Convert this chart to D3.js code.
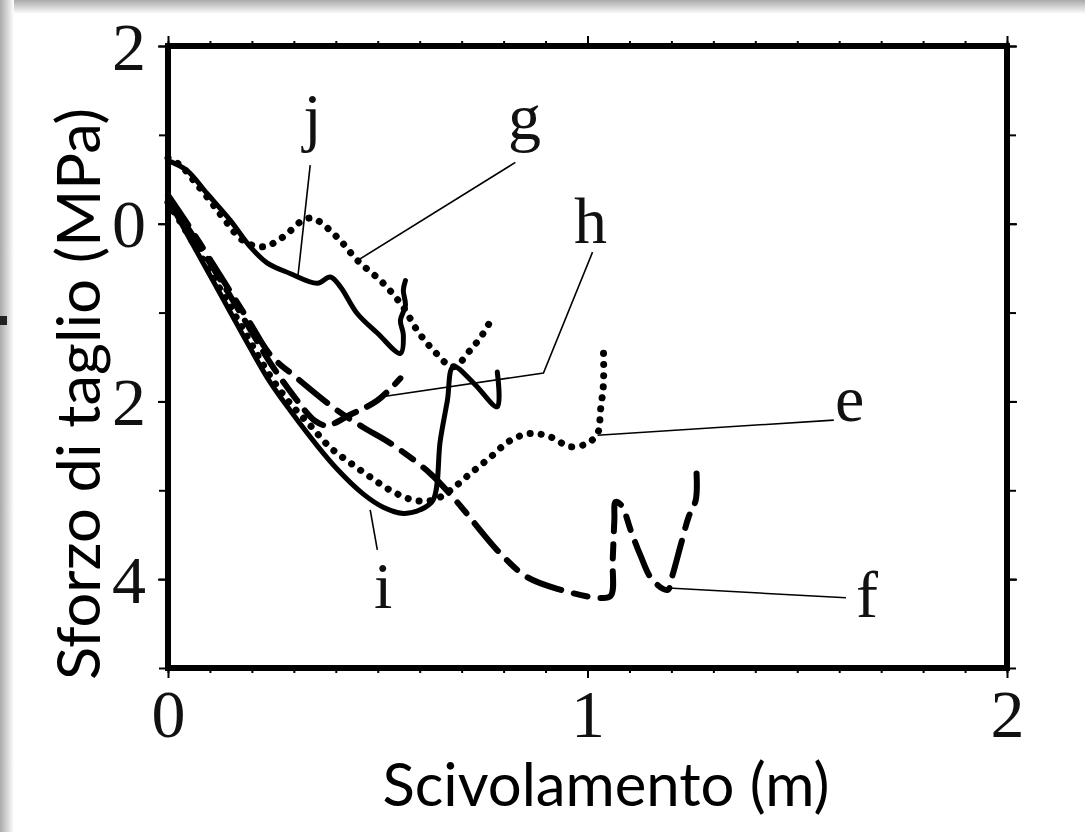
<!DOCTYPE html>
<meta charset="utf-8">
<head>
    <title>Sforzo di taglio</title>
</head>
<style>
    body { margin: 0; background: #fff; }
    .serif { font-family: "Liberation Serif", "Times New Roman", serif; }
    .sans { font-family: Lato, "Open Sans", sans-serif; }
</style>
<div id="graph_div"></div>
<script src="https://d3js.org/d3.v7.min.js"></script>
<script>
    // curve data: slip (m) and shear stress (MPa)
    var slip_e   = [0, 0.053, 0.10, 0.148, 0.196, 0.243, 0.291, 0.339, 0.387, 0.434, 0.482, 0.530, 0.585, 0.632, 0.673, 0.721, 0.768, 0.816, 0.864, 0.912, 0.959, 1.000, 1.024, 1.031, 1.038, 1.038];
    var stress_e = [0.24, -0.16, -0.54, -0.93, -1.33, -1.71, -2.02, -2.27, -2.52, -2.69, -2.85, -3.00, -3.11, -3.11, -3.00, -2.81, -2.63, -2.44, -2.36, -2.40, -2.51, -2.47, -2.36, -2.10, -1.80, -1.42];

    var slip_f   = [0, 0.053, 0.10, 0.148, 0.196, 0.243, 0.308, 0.403, 0.465, 0.530, 0.625, 0.685, 0.792, 0.857, 0.936, 1.024, 1.055, 1.060, 1.064, 1.067, 1.081, 1.103, 1.126, 1.155, 1.191, 1.203, 1.222, 1.241, 1.258, 1.260];
    var stress_f = [0.32, -0.05, -0.40, -0.76, -1.12, -1.47, -1.74, -2.10, -2.29, -2.47, -2.81, -3.11, -3.71, -3.98, -4.12, -4.21, -4.19, -3.79, -3.34, -3.13, -3.17, -3.45, -3.73, -4.01, -4.12, -3.95, -3.62, -3.30, -3.11, -2.81];

    var slip_g   = [0, 0.029, 0.064, 0.10, 0.131, 0.179, 0.227, 0.274, 0.322, 0.346, 0.403, 0.451, 0.513, 0.561, 0.594, 0.632, 0.680, 0.721, 0.752, 0.776];
    var stress_g = [0.74, 0.66, 0.47, 0.26, 0.07, -0.19, -0.26, -0.15, 0.04, 0.06, -0.15, -0.41, -0.67, -0.94, -1.20, -1.42, -1.61, -1.42, -1.23, -1.03];

    var slip_h   = [0, 0.053, 0.10, 0.148, 0.196, 0.243, 0.303, 0.351, 0.379, 0.434, 0.499, 0.554];
    var stress_h = [0.28, -0.09, -0.44, -0.81, -1.19, -1.56, -1.96, -2.22, -2.27, -2.15, -1.99, -1.74];

    var slip_i   = [0, 0.053, 0.10, 0.148, 0.196, 0.243, 0.291, 0.356, 0.403, 0.465, 0.513, 0.561, 0.601, 0.632, 0.649, 0.666, 0.680, 0.728, 0.785, 0.785];
    var stress_i = [0.27, -0.18, -0.58, -0.99, -1.40, -1.78, -2.10, -2.50, -2.76, -3.04, -3.19, -3.26, -3.22, -3.11, -2.44, -1.99, -1.61, -1.79, -2.06, -1.67];

    var slip_j   = [0, 0.045, 0.093, 0.148, 0.196, 0.236, 0.291, 0.356, 0.387, 0.411, 0.451, 0.499, 0.554, 0.561, 0.554, 0.566, 0.561, 0.566];
    var stress_j = [0.71, 0.60, 0.34, 0.04, -0.26, -0.44, -0.56, -0.67, -0.60, -0.71, -1.01, -1.23, -1.46, -1.25, -1.09, -0.92, -0.75, -0.64];

    var curve_names = ["e", "f", "g", "h", "i", "j"];
    var curve_slip = [slip_e, slip_f, slip_g, slip_h, slip_i, slip_j];
    var curve_stress = [stress_e, stress_f, stress_g, stress_h, stress_i, stress_j];

    // label positions and leader lines [slip, stress]
    var label_pos = [[1.625, -2.22], [1.666, -4.43], [0.850, 0.95], [1.007, -0.22], [0.513, -4.33], [0.344, 0.95]];
    var leader_pts = [
        [[1.587, -2.21], [1.024, -2.38]],
        [[1.616, -4.21], [1.193, -4.10]],
        [[0.828, 0.69], [0.453, -0.41]],
        [[1.012, -0.32], [0.895, -1.68], [0.506, -1.95]],
        [[0.499, -3.67], [0.482, -3.22]],
        [[0.339, 0.66], [0.310, -0.58]]
    ];

    var x_ticks = [0, 1, 2];
    var y_ticks = [2, 0, -2, -4];

    var W = 1085, H = 832;
    var margin = {top: 46, right: 78, bottom: 164, left: 168},
        width = W - margin.left - margin.right,
        height = H - margin.top - margin.bottom;

    var svg = d3.select("#graph_div")
      .append("svg")
        .attr("width", W)
        .attr("height", H);

    // grey shadow edges of the slide picture
    var defs = svg.append("defs");
    var gt = defs.append("linearGradient").attr("id", "gtop").attr("x1", 0).attr("y1", 0).attr("x2", 0).attr("y2", 1);
    gt.append("stop").attr("offset", "0%").attr("stop-color", "#aaaaaa");
    gt.append("stop").attr("offset", "100%").attr("stop-color", "#ffffff");
    var gl = defs.append("linearGradient").attr("id", "gleft").attr("x1", 0).attr("y1", 0).attr("x2", 1).attr("y2", 0);
    gl.append("stop").attr("offset", "0%").attr("stop-color", "#aaaaaa");
    gl.append("stop").attr("offset", "100%").attr("stop-color", "#ffffff");
    svg.append("rect").attr("width", W).attr("height", H).attr("fill", "#fff");
    svg.append("rect").attr("width", W).attr("height", 14).attr("fill", "url(#gtop)");
    svg.append("rect").attr("width", 14).attr("height", H).attr("fill", "url(#gleft)");
    svg.append("rect").attr("x", 0).attr("y", 316).attr("width", 7).attr("height", 9).attr("fill", "#222");

    var g = svg.append("g")
        .attr("transform", "translate(" + margin.left + "," + margin.top + ")");

    var x = d3.scaleLinear().domain([0, 2]).range([0, width]);
    var y = d3.scaleLinear().domain([2, -5]).range([0, height]);

    // minor ticks
    var xMinor = d3.range(0, 2.001, 0.1);
    var yMinor = d3.range(-5, 2.001, 1);
    g.append("g").attr("transform", "translate(0," + height + ")")
        .call(d3.axisBottom(x).tickValues(xMinor).tickSize(5).tickFormat(""));
    g.append("g")
        .call(d3.axisTop(x).tickValues(xMinor).tickSize(5).tickFormat(""));
    g.append("g")
        .call(d3.axisLeft(y).tickValues(yMinor).tickSize(9).tickFormat(""));
    g.append("g").attr("transform", "translate(" + width + ",0)")
        .call(d3.axisRight(y).tickValues(yMinor).tickSize(9).tickFormat(""));

    // major ticks with labels
    var xAxis = g.append("g").attr("transform", "translate(0," + height + ")")
        .call(d3.axisBottom(x).tickValues(x_ticks).tickSize(10).tickPadding(14).tickFormat(d3.format("d")));
    g.append("g")
        .call(d3.axisTop(x).tickValues(x_ticks).tickSize(10).tickFormat(""));
    var yAxis = g.append("g")
        .call(d3.axisLeft(y).tickValues(y_ticks).tickSize(10).tickPadding(12)
            .tickFormat(function(d) { return Math.abs(d); }));
    g.append("g").attr("transform", "translate(" + width + ",0)")
        .call(d3.axisRight(y).tickValues(y_ticks).tickSize(10).tickFormat(""));

    g.selectAll(".domain").remove();
    g.selectAll(".tick line").attr("stroke", "#000").attr("stroke-width", 2);
    g.selectAll(".tick text")
        .attr("class", "serif")
        .attr("font-size", 68)
        .attr("fill", "#111");
    xAxis.selectAll(".tick text").attr("dy", "0.66em");
    yAxis.selectAll(".tick text").attr("dy", "0.34em");

    // frame
    g.append("rect")
        .attr("x", 0).attr("y", 0)
        .attr("width", width).attr("height", height)
        .attr("fill", "none")
        .attr("stroke", "#000")
        .attr("stroke-width", 6);

    var line = d3.line()
        .x(function(d) { return x(d[0]); })
        .y(function(d) { return y(d[1]); })
        .curve(d3.curveCatmullRom.alpha(0.5));

    var styles = {
        e: {dash: "0.1 11", w: 7, cap: "round"},
        f: {dash: "36 13 14 13", w: 6, cap: "round"},
        g: {dash: "0.1 11", w: 7, cap: "round"},
        h: {dash: "24 12", w: 6, cap: "round"},
        i: {dash: null, w: 5, cap: "round"},
        j: {dash: null, w: 5, cap: "round"}
    };

    curve_names.forEach(function(name, k) {
        var pts = curve_slip[k].map(function(s, n) { return [s, curve_stress[k][n]]; });
        var st = styles[name];
        g.append("path")
            .datum(pts)
            .attr("d", line)
            .attr("fill", "none")
            .attr("stroke", "#000")
            .attr("stroke-width", st.w)
            .attr("stroke-linecap", st.cap)
            .attr("stroke-linejoin", "round")
            .attr("stroke-dasharray", st.dash);
    });

    // leader lines
    var leader = d3.line()
        .x(function(d) { return x(d[0]); })
        .y(function(d) { return y(d[1]); });
    leader_pts.forEach(function(pts) {
        g.append("path")
            .attr("d", leader(pts))
            .attr("fill", "none")
            .attr("stroke", "#000")
            .attr("stroke-width", 1.6);
    });

    // curve labels
    curve_names.forEach(function(name, k) {
        g.append("text")
            .attr("class", "serif")
            .attr("x", x(label_pos[k][0]))
            .attr("y", y(label_pos[k][1]))
            .attr("text-anchor", "middle")
            .attr("font-size", 66)
            .attr("fill", "#111")
            .text(name);
    });

    // axis titles
    svg.append("text")
        .attr("class", "sans")
        .attr("x", 606)
        .attr("y", 806)
        .attr("text-anchor", "middle")
        .attr("font-size", 60)
        .attr("textLength", 447)
        .attr("lengthAdjust", "spacingAndGlyphs")
        .attr("fill", "#000")
        .text("Scivolamento (m)");

    svg.append("text")
        .attr("class", "sans")
        .attr("transform", "translate(100,394) rotate(-90)")
        .attr("text-anchor", "middle")
        .attr("font-size", 60)
        .attr("textLength", 572)
        .attr("lengthAdjust", "spacingAndGlyphs")
        .attr("fill", "#000")
        .text("Sforzo di taglio (MPa)");
</script>
